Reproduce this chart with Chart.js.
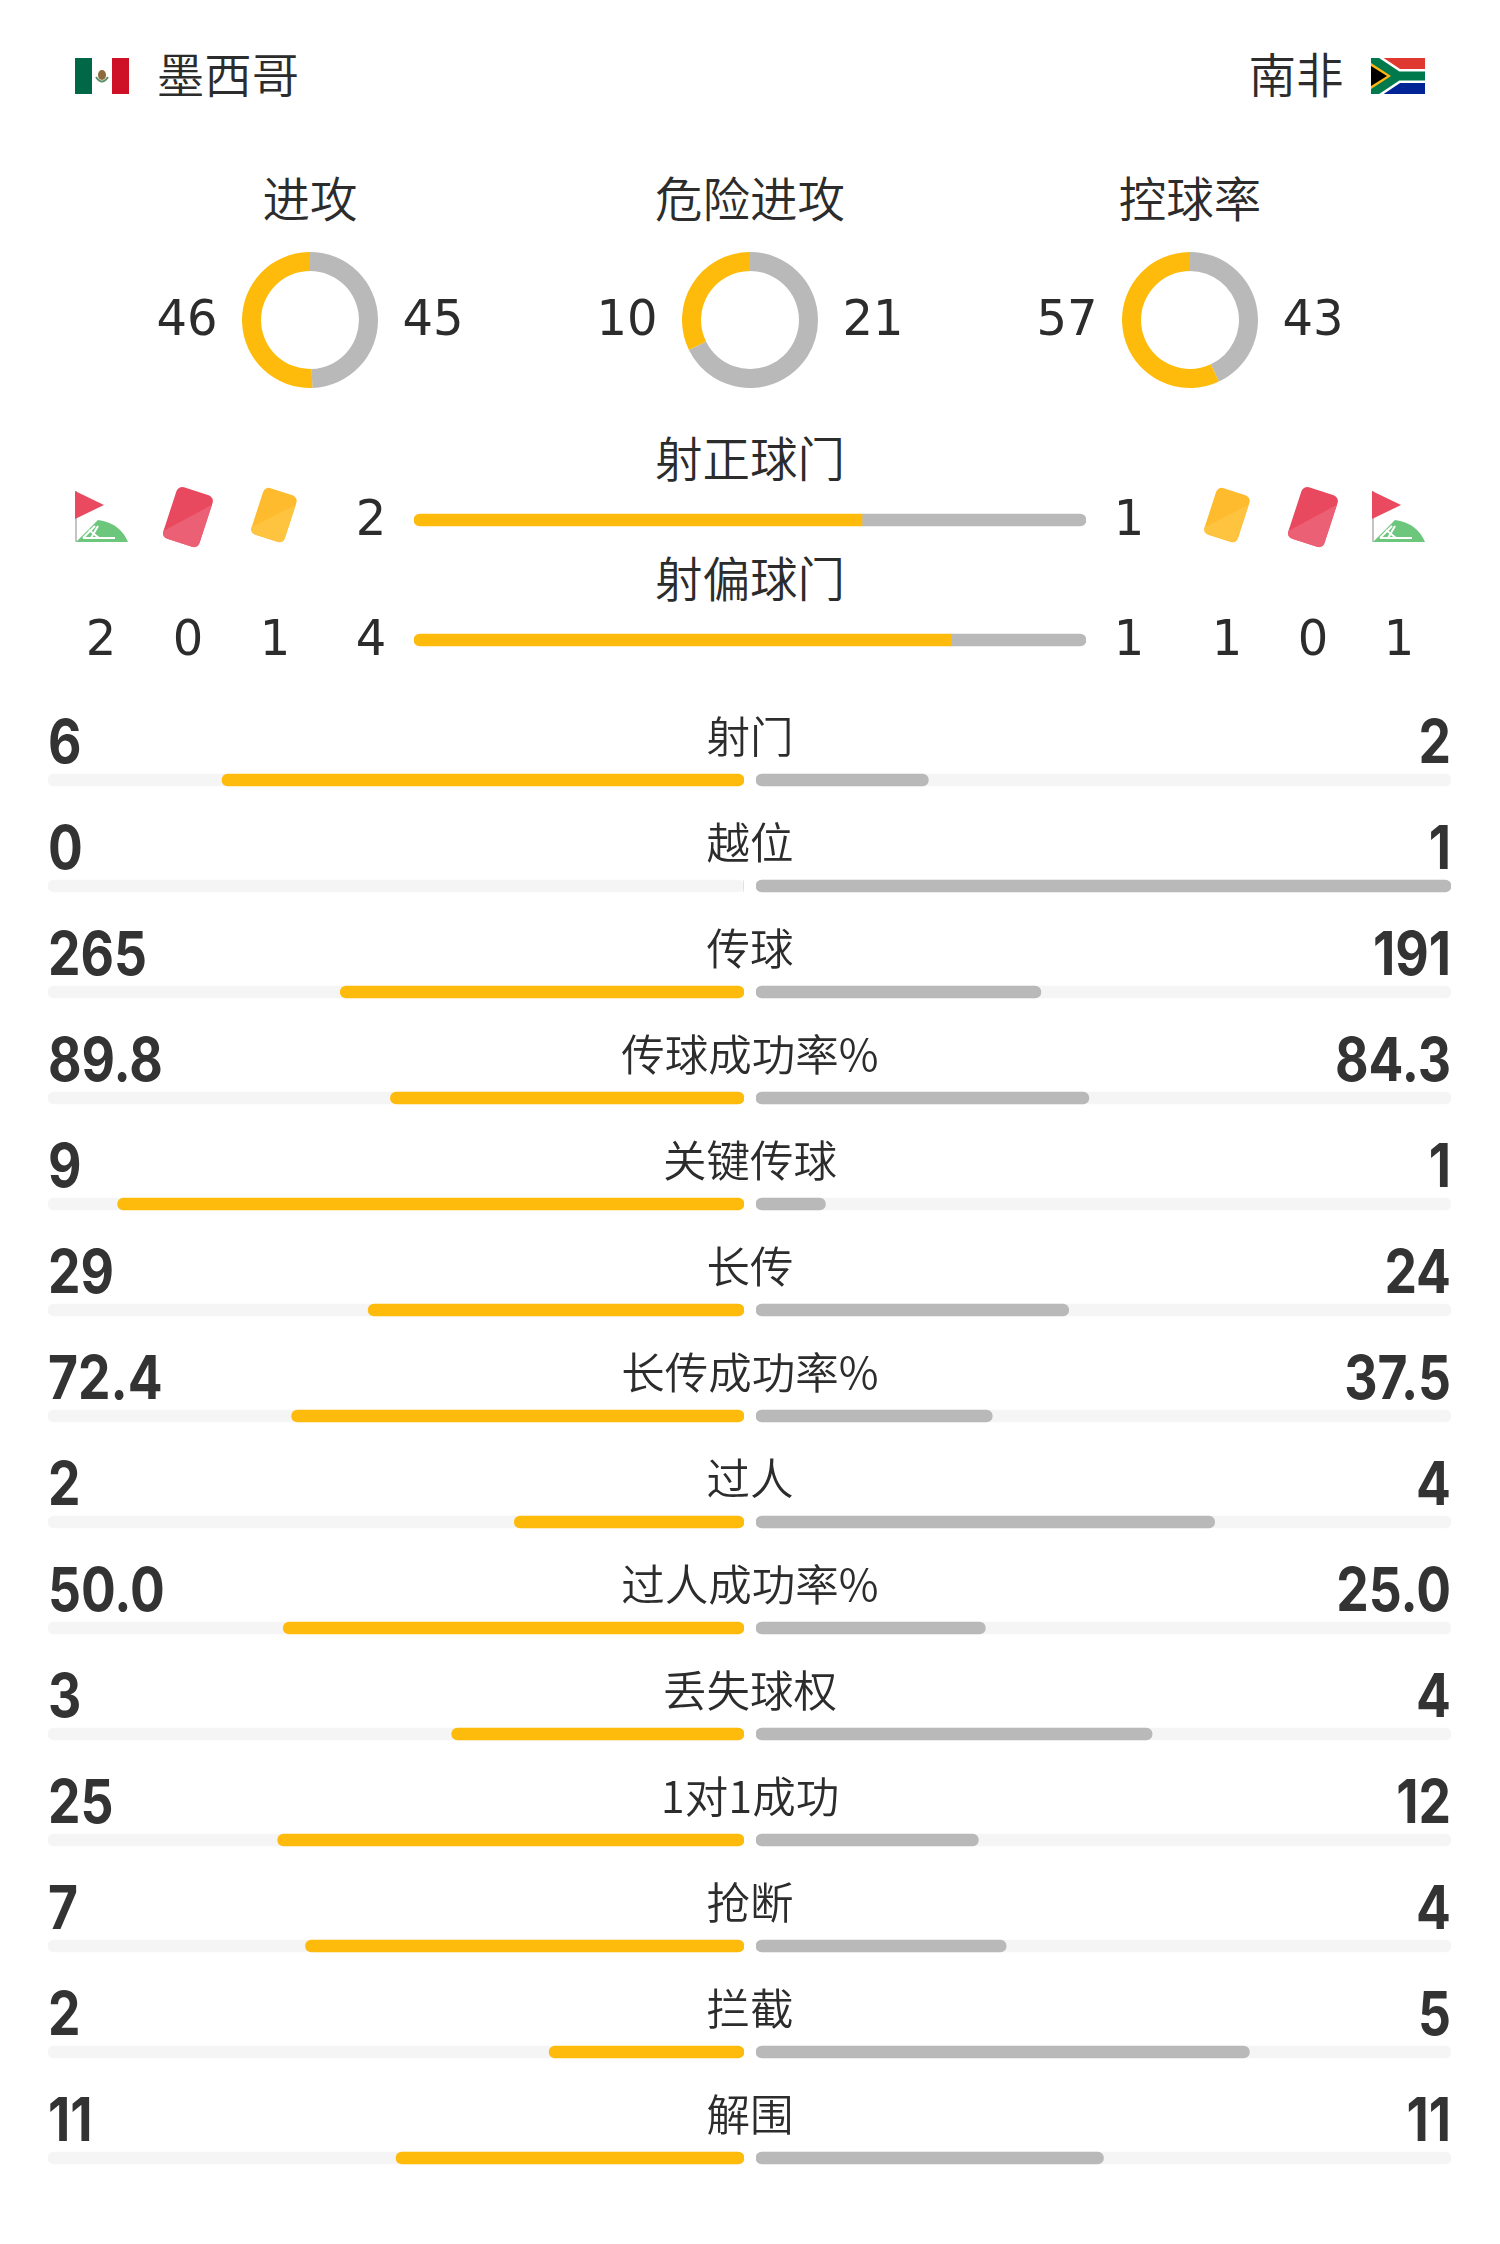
<!DOCTYPE html>
<html>
<head>
<meta charset="utf-8">
<script src="https://cdn.jsdelivr.net/npm/chart.js@4"></script>
<style>
html, body { margin: 0; background: #fff; }
#page { position: relative; width: 1500px; height: 2244px; overflow: hidden; font-family: "Noto Sans CJK SC", sans-serif; font-weight: 350; color: #2c2c2c; }
#page canvas, #page svg, .t { position: absolute; }
.t { white-space: nowrap; line-height: 1; }
</style>
</head>
<body>
<div id="page">
<!-- 国旗 -->
<svg style="left:75px;top:58px" width="54" height="36" viewBox="0 0 54 36">
	<rect width="17" height="36" fill="#006847"/><rect x="17" width="20" height="36" fill="#fff"/><rect x="37" width="17" height="36" fill="#ce1126"/>
	<ellipse cx="27" cy="17" rx="4" ry="5" fill="#8c6a3a"/><path d="M21 19 q6 9 12 0" fill="none" stroke="#5c8f6a" stroke-width="2"/>
</svg>
<svg style="left:1371px;top:58px" width="54" height="36" viewBox="0 0 54 36">
	<rect width="54" height="18" fill="#de3831"/><rect y="18" width="54" height="18" fill="#002395"/>
	<path d="M0 0 L27 18 L0 36 M27 18 H54" stroke="#fff" stroke-width="14" fill="none"/>
	<path d="M0 0 L27 18 L0 36 M27 18 H54" stroke="#007a4d" stroke-width="9" fill="none"/>
	<path d="M0 5 L20 18 L0 31 Z" fill="#ffb612"/><path d="M0 8 L16 18 L0 28 Z" fill="#000"/>
</svg>
</div>
<script>
// 数据
const teamLeft = '墨西哥'
const teamRight = '南非'

const ringTitles = ['进攻', '危险进攻', '控球率']
const ringLeft = [46, 10, 57]
const ringRight = [45, 21, 43]

const shotTitles = ['射正球门', '射偏球门']
const shotLeft = [2, 4]
const shotRight = [1, 1]

// 角球 红牌 黄牌
const cornerCounts = [2, 1]
const redCounts = [0, 0]
const yellowCounts = [1, 1]

const statNames = ['射门', '越位', '传球', '传球成功率%', '关键传球', '长传', '长传成功率%', '过人', '过人成功率%', '丢失球权', '1对1成功', '抢断', '拦截', '解围']
const statLeftText = ['6', '0', '265', '89.8', '9', '29', '72.4', '2', '50.0', '3', '25', '7', '2', '11']
const statRightText = ['2', '1', '191', '84.3', '1', '24', '37.5', '4', '25.0', '4', '12', '4', '5', '11']
// 进度条长度,百分比,从图上读的
const statLeftBar = [75, 0, 58, 50.8, 90, 54, 65, 33, 66.2, 42, 67, 63, 28, 50]
const statRightBar = [24.8, 100, 41, 47.9, 10, 45, 34, 66, 33, 57, 32, 36, 71, 50]
const statTrack = [100, 100, 100, 100, 100, 100, 100, 100, 100, 100, 100, 100, 100, 100]

const YELLOW = '#FEBB0B'
const GREY = '#B9B9B9'
const TRACK = '#F5F5F5'
const DIGITS = '"DejaVu Sans"'

const page = document.getElementById('page')

Chart.defaults.animation = false
Chart.defaults.responsive = false
Chart.defaults.plugins.legend.display = false
Chart.defaults.plugins.tooltip.enabled = false

const addCanvas = (x, y, w, h) => {
	const c = document.createElement('canvas')
	c.width = w
	c.height = h
	c.style.cssText = `left:${x}px;top:${y}px;width:${w}px;height:${h}px`
	page.appendChild(c)
	return c
}

// x,y 是文字中心,anchor: c / l / r
const addText = (str, x, y, size, opts = {}) => {
	const el = document.createElement('div')
	el.className = 't'
	el.textContent = str
	el.style.left = x + 'px'
	el.style.top = y + 'px'
	el.style.fontSize = size + 'px'
	if (opts.family) el.style.fontFamily = opts.family
	if (opts.weight) el.style.fontWeight = opts.weight
	if (opts.color) el.style.color = opts.color
	const sx = opts.scaleX || 1
	const a = opts.anchor || 'c'
	const tx = a === 'c' ? '-50%' : a === 'l' ? '0' : '-100%'
	el.style.transformOrigin = a === 'c' ? 'center' : a === 'l' ? 'left' : 'right'
	el.style.transform = `translate(${tx},-50%) scaleX(${sx})`
	page.appendChild(el)
}

const addDigit = (str, x, y) => addText(str, x, y, 50, { family: DIGITS, weight: 400, scaleX: 0.96 })

addText(teamLeft, 228, 73, 47.5)
addText(teamRight, 1296, 73, 47.5)

// 三个环
const ringCenters = [310, 750, 1190]
ringTitles.forEach((title, i) => {
	addText(title, ringCenters[i], 197, 47.5)
	addDigit(String(ringLeft[i]), ringCenters[i] - 123, 318)
	addDigit(String(ringRight[i]), ringCenters[i] + 123, 318)
	new Chart(addCanvas(ringCenters[i] - 68, 252, 136, 136), {
		type: 'doughnut',
		data: {
			labels: [teamRight, teamLeft],
			datasets: [{ data: [ringRight[i], ringLeft[i]], backgroundColor: [GREY, YELLOW], borderWidth: 0 }],
		},
		options: { cutout: '72%', layout: { padding: 0 } },
	})
})

// 射正 射偏
const shotRows = [520, 640]
shotTitles.forEach((title, i) => {
	addText(title, 750, shotRows[i] - 63, 47.5)
	addDigit(String(shotLeft[i]), 371, shotRows[i] - 2)
	addDigit(String(shotRight[i]), 1129, shotRows[i] - 2)
	new Chart(addCanvas(414, shotRows[i] - 10, 672, 20), {
		type: 'bar',
		data: {
			labels: [title],
			datasets: [
				{ data: [shotLeft[i]], backgroundColor: YELLOW, stack: 's', borderRadius: { topLeft: 6, bottomLeft: 6 }, borderSkipped: false, barThickness: 12 },
				{ data: [shotRight[i]], backgroundColor: GREY, stack: 's', borderRadius: { topRight: 6, bottomRight: 6 }, borderSkipped: false, barThickness: 12 },
			],
		},
		options: {
			indexAxis: 'y',
			scales: {
				x: { display: false, stacked: true, min: 0, max: shotLeft[i] + shotRight[i] },
				y: { display: false, stacked: true },
			},
		},
	})
})

// 第二行图标下面的数字
addDigit(String(cornerCounts[0]), 101, 638)
addDigit(String(redCounts[0]), 188, 638)
addDigit(String(yellowCounts[0]), 275, 638)
addDigit(String(yellowCounts[1]), 1227, 638)
addDigit(String(redCounts[1]), 1313, 638)
addDigit(String(cornerCounts[1]), 1399, 638)

// 图标
const cardSvg = (cx, cy, w, h, color, color2) => `<svg style="left:${cx - 40}px;top:${cy - 40}px" width="80" height="80" viewBox="-40 -40 80 80">
	<g transform="rotate(18)"><rect x="${-w / 2}" y="${-h / 2}" width="${w}" height="${h}" rx="6" fill="${color}"/>
	<path d="M${w / 2} ${-h / 2 + 8} V${h / 2 - 6} Q${w / 2} ${h / 2} ${w / 2 - 6} ${h / 2} H${-w / 2 + 6} Q${-w / 2} ${h / 2} ${-w / 2} ${h / 2 - 6} Z" fill="${color2}"/></g></svg>`
const cornerSvg = x => `<svg style="left:${x}px;top:490px" width="54" height="54" viewBox="0 0 54 54">
	<rect x="0" y="1" width="2" height="51" fill="#c4c4c4"/><path d="M0 1 L29 15 L0 29 Z" fill="#E94A5F"/>
	<path d="M1 52 L23 30 Q45 33 53 52 Z" fill="#6CC77D"/>
	<path d="M8 48 H40 M16 48 L23 36 M14 40 L24 48 M8 48 L20 36" stroke="#fff" stroke-width="2" fill="none"/></svg>`
page.insertAdjacentHTML('beforeend',
	cornerSvg(75) + cardSvg(188, 517, 38, 54, '#E8495F', '#EC6075') + cardSvg(274, 515, 35, 49, '#FDBB2D', '#FEC33F') +
	cardSvg(1227, 515, 35, 49, '#FDBB2D', '#FEC33F') + cardSvg(1313, 517, 38, 54, '#E8495F', '#EC6075') + cornerSvg(1372))

// 下面14行
const rowPitch = 106
const firstBar = 780
const barTop = firstBar - rowPitch / 2
const rowHeight = rowPitch * statNames.length

const sideChart = (x, w, values, color, reversed) => new Chart(addCanvas(x, barTop, w, rowHeight), {
	type: 'bar',
	data: {
		labels: statNames,
		datasets: [
			{ data: values, backgroundColor: color, borderRadius: 6, borderSkipped: false, barThickness: 12, grouped: false },
			{ data: statTrack, backgroundColor: TRACK, borderRadius: 6, borderSkipped: false, barThickness: 12, grouped: false },
		],
	},
	options: {
		indexAxis: 'y',
		scales: {
			x: { display: false, min: 0, max: 100, reverse: reversed },
			y: { display: false },
		},
	},
})

sideChart(48, 696, statLeftBar, YELLOW, true)
sideChart(756, 695, statRightBar, GREY, false)

statNames.forEach((name, i) => {
	const y = firstBar + i * rowPitch
	addText(name, 750, y - 45, 43.5)
	addText(statLeftText[i], 48, y - 39.5, 60, { family: 'Inter', weight: 700, anchor: 'l', scaleX: 0.86, color: '#333' })
	addText(statRightText[i], 1451, y - 39.5, 60, { family: 'Inter', weight: 700, anchor: 'r', scaleX: 0.86, color: '#333' })
})
</script>
</body>
</html>
